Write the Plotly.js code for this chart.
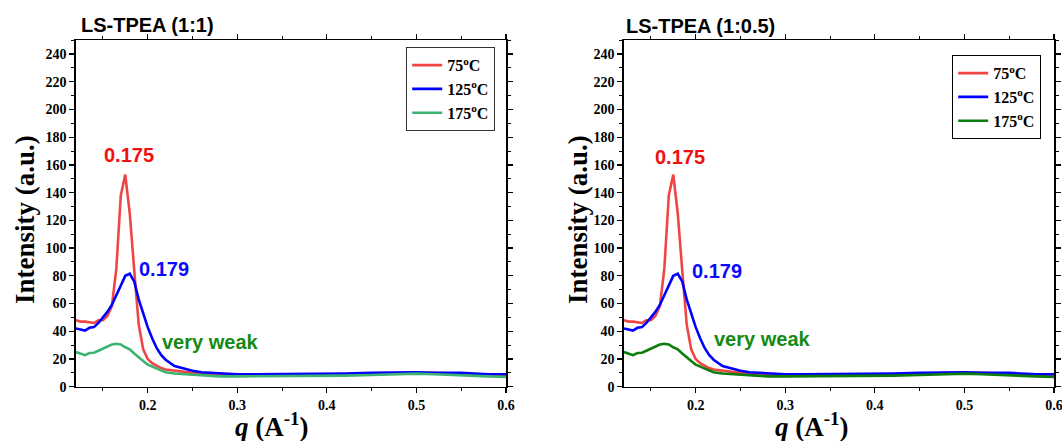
<!DOCTYPE html>
<html><head><meta charset="utf-8">
<script src="https://cdn.plot.ly/plotly-3.0.1.min.js"></script>
<style>html,body{margin:0;padding:0;background:#fff}#chart{width:1062px;height:441px}</style>
</head><body><div id="chart"></div>
<script>
const q = [0.12,0.125,0.13,0.135,0.14,0.145,0.15,0.155,0.16,0.165,0.17,0.175,0.18,0.185,0.19,0.195,0.2,0.205,0.21,0.215,0.22,0.23,0.24,0.25,0.26,0.28,0.3,0.32,0.35,0.38,0.4,0.42,0.45,0.48,0.5,0.52,0.55,0.58,0.6];
const I75  = [48,47,47,46.5,46,48,48,51,58,85,138,153,125,84,45,27,20,17,15,13.5,12.5,11.5,11,10,9.5,9,8.5,8.5,8.5,8.5,8.5,9,9.5,10,10,10,9.5,8.5,8];
const I125 = [42,41,40.5,42.5,43,46,50,54,59,66,74,80,81.5,76,63,53,43,35,28,23,19.5,15,13,11.5,10.5,9.5,9,9,9,9,9,9.5,10,10.5,10.5,10,10,9,9];
const I175 = [25,24,22.8,24.3,24.5,26,27.5,29,30.5,31,30.5,28.5,27,24,21,18.5,16,14.5,13,11.5,10.5,9.5,9,8.5,8,7.5,7.5,7.5,7.5,7.5,8,8,8.5,9,9.5,9,8,7.5,7];
const seriesNames = ['75<sup>o</sup>C','125<sup>o</sup>C','175<sup>o</sup>C'];
const panelTitles = ['LS-TPEA (1:1)','LS-TPEA (1:0.5)'];
const peakLabels = ['0.175','0.179','very weak'];

const colorsL = ['#f04545','#0000ff','#3cb371'];
const colorsR = ['#f04545','#0000ff','#0a7d0a'];
const ser = [I75,I125,I175];

const traces = [];
ser.forEach((s,i)=>traces.push({x:q,y:s,type:'scatter',mode:'lines',name:seriesNames[i],
  line:{color:colorsL[i],width:2.6},xaxis:'x',yaxis:'y',legend:'legend'}));
ser.forEach((s,i)=>traces.push({x:q,y:s,type:'scatter',mode:'lines',name:seriesNames[i],
  line:{color:colorsR[i],width:2.6},xaxis:'x2',yaxis:'y2',legend:'legend2'}));

const tickFont = {family:'Liberation Serif, Times New Roman, serif',size:14,color:'#000',weight:'bold'};
function xax(dom, anchor){return {domain:dom,anchor:anchor,range:[0.12,0.6],tick0:0,dtick:0.1,
  ticks:'outside',ticklen:5,tickwidth:1.3,tickcolor:'#000',showline:true,linecolor:'#000',linewidth:1.6,mirror:'ticks',
  showgrid:false,zeroline:false,tickfont:tickFont,ticklabeloverflow:'allow',
  minor:{dtick:0.05,tick0:0,ticks:'outside',ticklen:3,tickcolor:'#000',tickwidth:1}};}
function yax(anchor){return {domain:[0.123,0.909],anchor:anchor,range:[0,250],tick0:0,dtick:20,
  ticks:'outside',ticklen:5,tickwidth:1.3,tickcolor:'#000',showline:true,linecolor:'#000',linewidth:1.6,mirror:'ticks',
  showgrid:false,zeroline:false,tickfont:tickFont,
  minor:{dtick:10,tick0:0,ticks:'outside',ticklen:3,tickcolor:'#000',tickwidth:1}};}

const legFont = {family:'Liberation Serif, Times New Roman, serif',size:16,color:'#000',weight:'bold'};
const titleFontAx = {family:'Liberation Serif, Times New Roman, serif',size:27,color:'#000',weight:'bold'};
const panelFont = {family:'Liberation Sans, Arial, sans-serif',size:20,color:'#000',weight:'bold'};
const annFont = (c)=>({family:'Liberation Sans, Arial, sans-serif',size:20,color:c,weight:'bold'});

const annotations = [
  {xref:'paper',yref:'paper',x:79/1062,y:1-25/441,xanchor:'left',yanchor:'middle',text:panelTitles[0],showarrow:false,font:panelFont},
  {xref:'paper',yref:'paper',x:624/1062,y:1-26/441,xanchor:'left',yanchor:'middle',text:panelTitles[1],showarrow:false,font:panelFont},
  {xref:'paper',yref:'paper',x:25/1062,y:1-220/441,xanchor:'center',yanchor:'middle',textangle:-90,text:'Intensity (a.u.)',showarrow:false,font:titleFontAx},
  {xref:'paper',yref:'paper',x:578/1062,y:1-220/441,xanchor:'center',yanchor:'middle',textangle:-90,text:'Intensity (a.u.)',showarrow:false,font:titleFontAx},
  {xref:'paper',yref:'paper',x:272/1062,y:1-425/441,xanchor:'center',yanchor:'middle',text:'<i>q</i> (A<sup>-1</sup>)',showarrow:false,font:titleFontAx},
  {xref:'paper',yref:'paper',x:812/1062,y:1-425/441,xanchor:'center',yanchor:'middle',text:'<i>q</i> (A<sup>-1</sup>)',showarrow:false,font:titleFontAx},
  {xref:'x',yref:'y',x:0.1786,y:167,text:peakLabels[0],showarrow:false,font:annFont('#f01010')},
  {xref:'x',yref:'y',x:0.2187,y:84.8,text:peakLabels[1],showarrow:false,font:annFont('#0a0aff')},
  {xref:'x',yref:'y',x:0.2706,y:32.2,text:peakLabels[2],showarrow:false,font:annFont('#148a14')},
  {xref:'x2',yref:'y2',x:0.1822,y:165.7,text:peakLabels[0],showarrow:false,font:annFont('#f01010')},
  {xref:'x2',yref:'y2',x:0.2236,y:83.4,text:peakLabels[1],showarrow:false,font:annFont('#0a0aff')},
  {xref:'x2',yref:'y2',x:0.2745,y:34.1,text:peakLabels[2],showarrow:false,font:annFont('#148a14')}
];

const layout = {
  width:1062,height:441,margin:{l:0,r:0,t:0,b:0},paper_bgcolor:'#fff',plot_bgcolor:'#fff',
  showlegend:true,
  xaxis:xax([76/1062,506/1062],'y'),yaxis:yax('x'),
  xaxis2:xax([624/1062,1054/1062],'y2'),yaxis2:yax('x2'),
  legend:{x:406/1062,y:1-47/441,xanchor:'left',yanchor:'top',bgcolor:'#fff',bordercolor:'#333',borderwidth:1.2,
    font:legFont,tracegroupgap:0,itemwidth:30},
  legend2:{x:952/1062,y:1-55/441,xanchor:'left',yanchor:'top',bgcolor:'#fff',bordercolor:'#000',borderwidth:1.2,
    font:legFont,tracegroupgap:0,itemwidth:30},
  annotations:annotations
};
Plotly.newPlot('chart',traces,layout,{staticPlot:true,displayModeBar:false});
</script></body></html>
